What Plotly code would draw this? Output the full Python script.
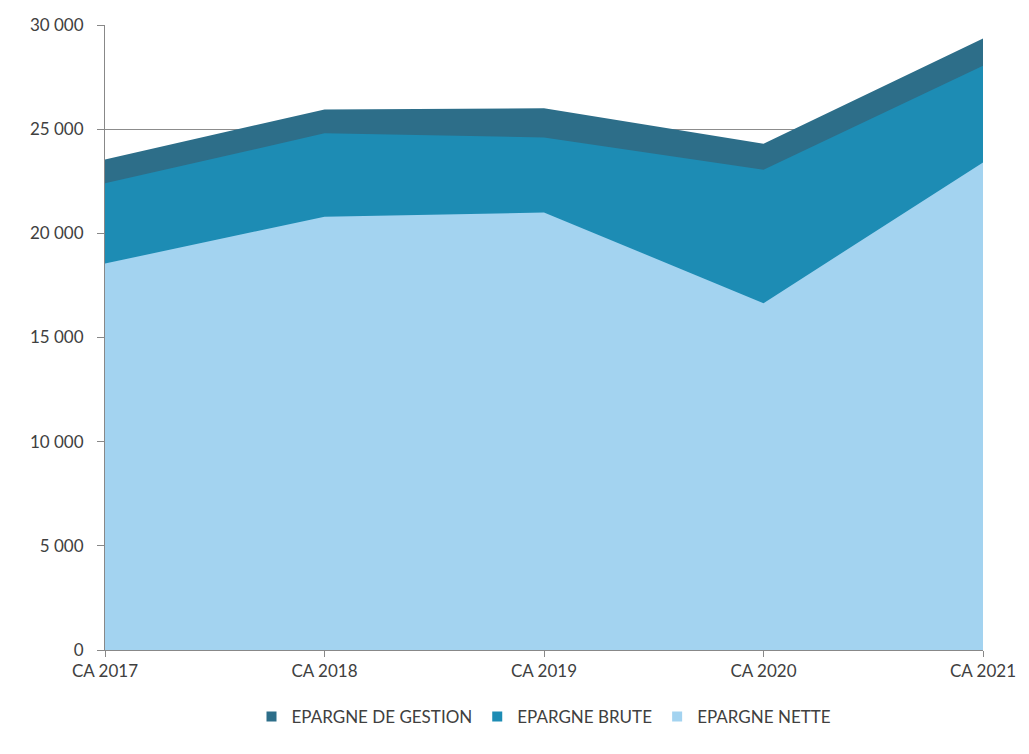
import plotly.graph_objects as go

categories = ["CA 2017", "CA 2018", "CA 2019", "CA 2020", "CA 2021"]
epargne_gestion = [23550, 25950, 26000, 24300, 29350]
epargne_brute = [22400, 24800, 24600, 23050, 28050]
epargne_nette = [18550, 20800, 21000, 16650, 23400]
y_ticks = [0, 5000, 10000, 15000, 20000, 25000, 30000]

FONT = "Lato, 'Open Sans', sans-serif"
series = [
    ("EPARGNE DE GESTION", epargne_gestion, "#2d6e89"),
    ("EPARGNE BRUTE", epargne_brute, "#1d8cb4"),
    ("EPARGNE NETTE", epargne_nette, "#a3d3f0"),
]

fig = go.Figure()
xs = list(range(len(categories)))
for name, vals, col in series:
    fig.add_trace(go.Scatter(
        x=xs, y=vals, name=name, mode="lines", fill="tozeroy",
        line=dict(width=0, color=col), fillcolor=col, showlegend=False,
    ))
for name, vals, col in series:
    fig.add_trace(go.Scatter(
        x=[None], y=[None], name=name, mode="markers",
        marker=dict(symbol="square", size=10, color=col), showlegend=True,
    ))

fig.update_layout(
    width=1029, height=754,
    margin=dict(l=105, r=46, t=25, b=104),
    paper_bgcolor="white", plot_bgcolor="white",
    separators=", ",
    font=dict(family=FONT, size=17, color="#404040"),
    showlegend=True,
    legend=dict(orientation="h", x=0.5, xanchor="center", y=-0.107, yanchor="middle",
                font=dict(size=17, color="#404040"), traceorder="normal",
                itemwidth=30, tracegroupgap=0),
    xaxis=dict(
        range=[0, 4], tickvals=xs, ticktext=categories,
        showgrid=False, showline=True, linecolor="#888888", linewidth=1,
        ticks="outside", ticklen=6, tickcolor="#888888",
        tickfont=dict(size=17, color="#404040"),
        zeroline=False,
    ),
    yaxis=dict(
        range=[0, 30000], tickvals=y_ticks, tickformat=",d",
        showgrid=True, gridcolor="#8c8c8c", gridwidth=1,
        showline=True, linecolor="#888888", linewidth=1,
        ticks="outside", ticklen=7, tickcolor="#888888",
        tickfont=dict(size=17, color="#404040"), ticklabelstandoff=10,
        zeroline=False, layer="below traces",
    ),
)

fig.write_html("out.html")
